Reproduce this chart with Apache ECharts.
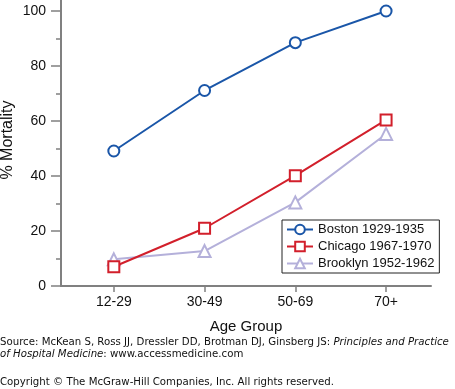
<!DOCTYPE html>
<html><head><meta charset="utf-8">
<script src="https://cdn.jsdelivr.net/npm/echarts@6/dist/echarts.min.js"></script>
<style>html,body{margin:0;padding:0;background:#fff}#c{width:455px;height:389px}</style>
</head><body><div id="c"></div>
<script>
var categories = ['12-29', '30-49', '50-69', '70+'];
var boston = [49.1, 71.1, 88.5, 100];
var chicago = [7.0, 21.0, 40.1, 60.4];
var brooklyn = [9.7, 12.7, 30.4, 55.3];
var seriesNames = ['Boston 1929-1935', 'Chicago 1967-1970', 'Brooklyn 1952-1962'];
var yMajorTicks = [0, 20, 40, 60, 80, 100];
var yMinorTicks = [10, 30, 50, 70, 90];

function pts(arr) { return arr.map(function (v, i) { return [i, v]; }); }
var FONT = '"Liberation Sans", Arial, Helvetica, sans-serif';
var SFONT = '"DejaVu Sans", Verdana, sans-serif';
var axisColor = '#808080';
var chart = echarts.init(document.getElementById('c'), null, {renderer: 'canvas'});
var catIdx = categories.map(function (c, i) { return i; });
chart.setOption({
  animation: false,
  grid: {left: 61, right: 24, top: 0, bottom: 103, containLabel: false, outerBoundsMode: 'none'},
  xAxis: {
    type: 'value', min: -0.582, max: 3.495,
    name: 'Age Group', nameLocation: 'middle', nameGap: 33, nameMoveOverlap: false,
    nameTextStyle: {fontFamily: FONT, fontSize: 15, color: '#111'},
    axisLine: {show: true, onZero: false, lineStyle: {color: axisColor, width: 2}},
    axisTick: {show: true, length: 6, customValues: catIdx, lineStyle: {color: axisColor, width: 1.5}},
    axisLabel: {customValues: catIdx, margin: 9, fontFamily: FONT, fontSize: 14, color: '#111',
      formatter: function (v) { return categories[Math.round(v)]; }},
    splitLine: {show: false}
  },
  yAxis: [{
    type: 'value', min: 0, max: 104,
    axisLine: {show: true, onZero: false, lineStyle: {color: axisColor, width: 2}},
    axisTick: {show: true, length: 10, customValues: yMajorTicks, lineStyle: {color: axisColor, width: 1.5}},
    axisLabel: {customValues: yMajorTicks, margin: 15, fontFamily: FONT, fontSize: 14, color: '#111'},
    splitLine: {show: false}
  }, {
    type: 'value', min: 0, max: 104, position: 'left',
    axisLine: {show: false, onZero: false},
    axisTick: {show: true, length: 5, customValues: yMinorTicks, lineStyle: {color: axisColor, width: 1.5}},
    axisLabel: {show: false},
    splitLine: {show: false}
  }],
  legend: {
    orient: 'vertical', left: 282, top: 220,
    borderColor: '#222', borderWidth: 1, padding: [3, 5, 3, 4],
    itemWidth: 26, itemHeight: 12, itemGap: 4,
    textStyle: {fontFamily: FONT, fontSize: 13, color: '#111'},
    data: seriesNames
  },
  series: [
    {name: seriesNames[0], type: 'line', data: pts(boston), symbol: 'circle', symbolSize: 11,
      itemStyle: {color: '#fff', borderColor: '#1a56a8', borderWidth: 2},
      lineStyle: {color: '#1a56a8', width: 2}, z: 4},
    {name: seriesNames[1], type: 'line', data: pts(chicago), symbol: 'rect', symbolSize: 11,
      itemStyle: {color: '#fff', borderColor: '#d21f2b', borderWidth: 2},
      lineStyle: {color: '#d21f2b', width: 2}, z: 3},
    {name: seriesNames[2], type: 'line', data: pts(brooklyn), symbol: 'triangle', symbolSize: 12,
      itemStyle: {color: '#fff', borderColor: '#b4b0da', borderWidth: 2},
      lineStyle: {color: '#b4b0da', width: 2}, z: 2}
  ],
  graphic: [
    {type: 'text', x: 8, y: 140, rotation: Math.PI / 2, style: {
      text: '% Mortality', fontFamily: FONT, fontSize: 16, fill: '#111',
      align: 'center', verticalAlign: 'middle'
    }},
    {type: 'text', left: 0, top: 336, style: {
      rich: {n: {fontFamily: SFONT, fontSize: 10.2, fill: '#111'},
             i: {fontFamily: SFONT, fontSize: 10.2, fontStyle: 'italic', fill: '#111'}},
      text: '{n|Source: McKean S, Ross JJ, Dressler DD, Brotman DJ, Ginsberg JS: }{i|Principles and Practice}\n{i|of Hospital Medicine}{n|: www.accessmedicine.com}',
      lineHeight: 12.5
    }},
    {type: 'text', left: 0, top: 377, style: {
      text: 'Copyright \u00a9 The McGraw-Hill Companies, Inc. All rights reserved.',
      fontFamily: SFONT, fontSize: 10.2, fill: '#111'
    }}
  ]
});
</script></body></html>
